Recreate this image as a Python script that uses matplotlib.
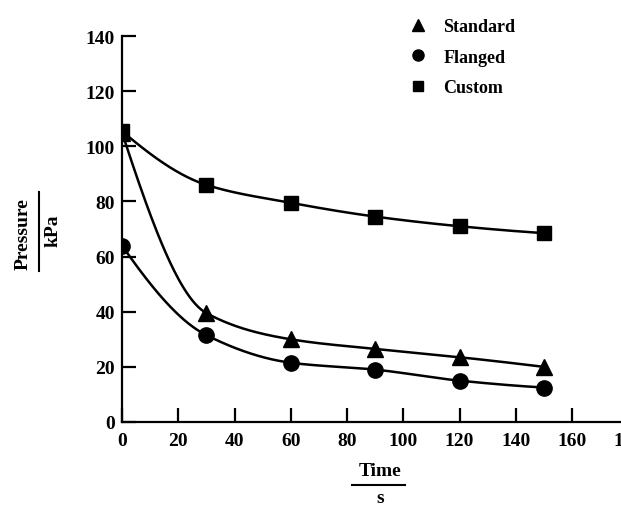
import numpy as np
import matplotlib.pyplot as plt
from matplotlib.lines import Line2D

# data
time_s = [0, 30, 60, 90, 120, 150]
standard = [105, 39.5, 30, 26.5, 23.5, 20]
flanged = [64, 31.5, 21.5, 19, 15, 12.5]
custom = [105.5, 86, 79.5, 74.5, 71, 68.5]
xticks = [0, 20, 40, 60, 80, 100, 120, 140, 160, 180]
yticks = [0, 20, 40, 60, 80, 100, 120, 140]


def pchip(x, y, xs):
    # monotone cubic curve through the points, only used to draw the smooth line
    x = np.asarray(x, float)
    y = np.asarray(y, float)
    h = np.diff(x)
    d = np.diff(y) / h
    m = np.zeros_like(y)
    for k in range(1, len(x) - 1):
        if d[k - 1] * d[k] > 0:
            w1 = 2 * h[k] + h[k - 1]
            w2 = h[k] + 2 * h[k - 1]
            m[k] = (w1 + w2) / (w1 / d[k - 1] + w2 / d[k])
    m[0] = ((2 * h[0] + h[1]) * d[0] - h[0] * d[1]) / (h[0] + h[1])
    if np.sign(m[0]) != np.sign(d[0]):
        m[0] = 0
    m[-1] = ((2 * h[-1] + h[-2]) * d[-1] - h[-1] * d[-2]) / (h[-1] + h[-2])
    if np.sign(m[-1]) != np.sign(d[-1]):
        m[-1] = 0
    idx = np.clip(np.searchsorted(x, xs) - 1, 0, len(x) - 2)
    t = (xs - x[idx]) / h[idx]
    h00 = 2 * t**3 - 3 * t**2 + 1
    h10 = t**3 - 2 * t**2 + t
    h01 = -2 * t**3 + 3 * t**2
    h11 = t**3 - t**2
    return h00 * y[idx] + h10 * h[idx] * m[idx] + h01 * y[idx + 1] + h11 * h[idx] * m[idx + 1]


plt.rcParams['font.family'] = 'Liberation Serif'
plt.rcParams['font.weight'] = 'bold'

W, H = 621, 506
fig = plt.figure(figsize=(W / 100, H / 100), dpi=100)
# axis extends past the right edge of the picture, like the scanned original
ax = fig.add_axes([122 / W, 83 / H, 185 * 2.8125 / W, 386 / H])

xs = np.linspace(0, 150, 300)
for vals, mk in [(standard, '^'), (flanged, 'o'), (custom, 's')]:
    ax.plot(xs, pchip(time_s, vals, xs), color='black', lw=1.8)
    ax.plot(time_s, vals, linestyle='none', marker=mk, color='black', ms=11 if mk != 's' else 10.5)

ax.set_xlim(0, 185)
ax.set_ylim(0, 140)
ax.set_xticks(xticks)
ax.set_yticks(yticks)
ax.spines['top'].set_visible(False)
ax.spines['right'].set_visible(False)
for s in ['left', 'bottom']:
    ax.spines[s].set_linewidth(1.6)
ax.tick_params(direction='in', length=10, width=1.6, labelsize=14)
ax.tick_params(axis='x', pad=7)
ax.tick_params(axis='y', pad=5)
for lab in ax.get_xticklabels() + ax.get_yticklabels():
    lab.set_fontweight('bold')

handles = [Line2D([], [], ls='none', marker='^', color='black', ms=8),
           Line2D([], [], ls='none', marker='o', color='black', ms=8),
           Line2D([], [], ls='none', marker='s', color='black', ms=7)]
ax.legend(handles, ['Standard', 'Flanged', 'Custom'], loc='upper left',
          bbox_to_anchor=(409 / W, 1 - 19 / H), bbox_transform=fig.transFigure,
          frameon=False, borderpad=0, borderaxespad=0, handlelength=1.0,
          handletextpad=0.9, labelspacing=0.75, prop={'size': 13, 'weight': 'bold'})

# axis labels written as quantity over unit
fig.text(23 / W, 1 - 234 / H, 'Pressure', rotation=90, ha='center', va='center', fontsize=14, fontweight='bold')
fig.text(53 / W, 1 - 231 / H, 'kPa', rotation=90, ha='center', va='center', fontsize=14, fontweight='bold')
fig.add_artist(Line2D([39 / W, 39 / W], [1 - 193 / H, 1 - 272 / H], color='black', lw=1.5))

fig.text(380 / W, 1 - 472 / H, 'Time', ha='center', va='center', fontsize=14, fontweight='bold')
fig.add_artist(Line2D([352 / W, 405 / W], [1 - 486 / H, 1 - 486 / H], color='black', lw=1.5))
fig.text(380 / W, 1 - 499 / H, 's', ha='center', va='center', fontsize=14, fontweight='bold')

fig.savefig('out.png', dpi=100)
